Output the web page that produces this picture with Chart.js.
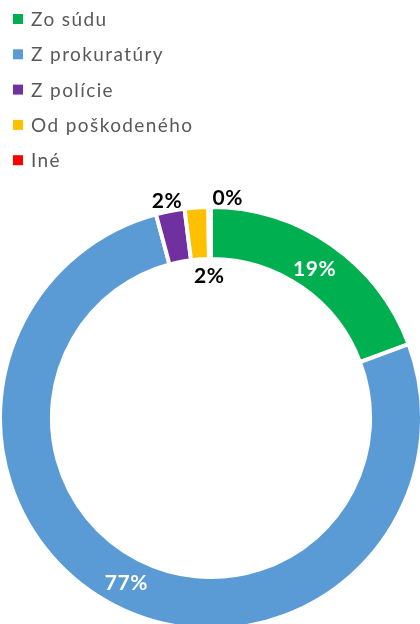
<!DOCTYPE html>
<html>
<head>
<meta charset="utf-8">
<script src="https://cdn.jsdelivr.net/npm/chart.js@4.4.1/dist/chart.umd.min.js"></script>
<style>
html,body{margin:0;padding:0;width:420px;height:624px;overflow:hidden;background:#fff;}
#wrap{position:relative;width:420px;height:624px;overflow:hidden;}
canvas{display:block;}
</style>
</head>
<body>
<div id="wrap"><canvas id="c" width="420" height="630"></canvas></div>
<script>
const categories = ["Zo súdu", "Z prokuratúry", "Z polície", "Od poškodeného", "Iné"];
const values = [19.3, 76.5, 2.2, 1.8, 0.2];
const valueLabels = ["19%", "77%", "2%", "2%", "0%"];
const colors = ["#00B050", "#5B9BD5", "#7030A0", "#FFC000", "#FF0000"];

const legendPlugin = {
  id: 'vlegend',
  afterDraw(chart) {
    const ctx = chart.ctx;
    ctx.save();
    ctx.font = '19px Lato, "Liberation Sans", sans-serif';
    if ('letterSpacing' in ctx) ctx.letterSpacing = '1.4px';
    ctx.textBaseline = 'middle';
    ctx.textAlign = 'left';
    categories.forEach((name, i) => {
      const y = 19 + i * 35.3;
      ctx.fillStyle = colors[i];
      ctx.fillRect(13, y - 5, 10, 10);
      ctx.fillStyle = '#595959';
      ctx.fillText(name, 31, y + 1);
    });
    ctx.restore();
  }
};

const labelPlugin = {
  id: 'vlabels',
  afterDatasetsDraw(chart) {
    const ctx = chart.ctx;
    const meta = chart.getDatasetMeta(0);
    ctx.save();
    ctx.font = 'bold 21px Lato, "Liberation Sans", sans-serif';
    if ('letterSpacing' in ctx) ctx.letterSpacing = '0.6px';
    ctx.textAlign = 'center';
    ctx.textBaseline = 'middle';
    meta.data.forEach((arc, i) => {
      const p = arc.getProps(['x','y','startAngle','endAngle','innerRadius','outerRadius'], true);
      let ang = (p.startAngle + p.endAngle) / 2;
      let r = (p.innerRadius + p.outerRadius) / 2;
      let color = '#FFFFFF';
      if (i === 0) { r -= 3; }
      if (i === 2) { r = p.outerRadius + 11; color = '#000000'; ang -= 0.005; }
      if (i === 3) { ang = p.endAngle; r = p.innerRadius - 16; color = '#000000'; }
      if (i === 4) { ang = ang + 0.082; r = p.outerRadius + 10; color = '#000000'; }
      const x = p.x + Math.cos(ang) * r;
      const y = p.y + Math.sin(ang) * r;
      ctx.fillStyle = color;
      ctx.fillText(valueLabels[i], x, y + 1);
    });
    ctx.restore();
  }
};

new Chart(document.getElementById('c'), {
  type: 'doughnut',
  data: {
    labels: categories,
    datasets: [{
      data: values,
      backgroundColor: colors,
      borderColor: '#FFFFFF',
      borderWidth: 4,
      hoverOffset: 0
    }]
  },
  options: {
    responsive: false,
    animation: false,
    radius: 211,
    cutout: '75.4%',
    layout: { padding: { top: 206, left: 2, right: 0, bottom: 0 } },
    plugins: {
      legend: { display: false },
      tooltip: { enabled: false }
    }
  },
  plugins: [legendPlugin, labelPlugin]
});
</script>
</body>
</html>
